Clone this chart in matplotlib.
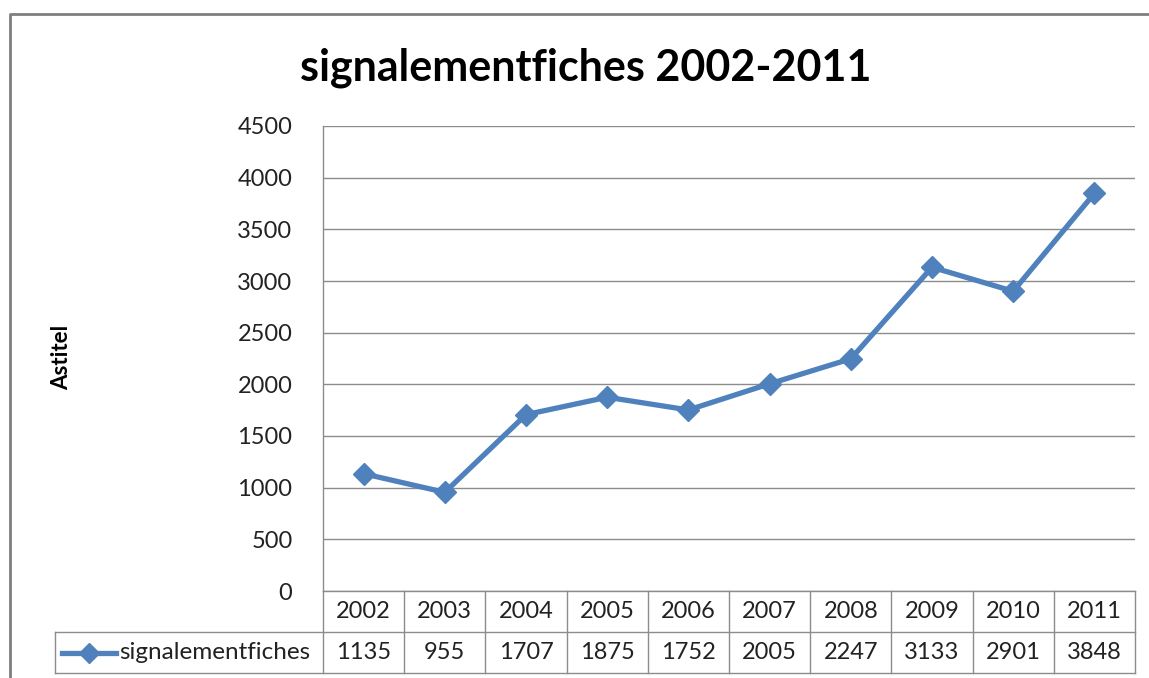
import matplotlib.pyplot as plt
from matplotlib.lines import Line2D

years = ["2002", "2003", "2004", "2005", "2006", "2007", "2008", "2009", "2010", "2011"]
counts = [1135, 955, 1707, 1875, 1752, 2005, 2247, 3133, 2901, 3848]
series_name = "signalementfiches"
title = "signalementfiches 2002-2011"
ylabel = "Astitel"
yticks = [0, 500, 1000, 1500, 2000, 2500, 3000, 3500, 4000, 4500]

W, H = 1149, 678
blue = "#4F81BD"
grey = "#8C8C8C"
txt = "#222222"
plt.rcParams["font.family"] = ["Lato", "DejaVu Sans"]

fig = plt.figure(figsize=(W / 100, H / 100), dpi=100)


def fx(px):
    return px / W


def fy(py):
    return 1 - py / H


# plot area in pixel terms
left, right, top, bottom = 323, 1135, 126, 591
ax = fig.add_axes([fx(left), fy(bottom), fx(right - left), fy(top) - fy(bottom)])

x = list(range(len(years)))
ax.plot(x, counts, color=blue, lw=3.8, marker="D", ms=11, mfc=blue, mec=blue, zorder=5)
ax.set_xlim(-0.5, len(years) - 0.5)
ax.set_ylim(0, 4500)
ax.set_yticks(yticks)
ax.set_yticklabels([str(t) for t in yticks], fontsize=17, color=txt)
ax.tick_params(axis="y", length=0, pad=22)
ax.set_xticks([])
ax.grid(axis="y", color=grey, lw=1)
ax.set_axisbelow(True)
for side in ["top", "right", "bottom"]:
    ax.spines[side].set_visible(False)
ax.spines["left"].set_color(grey)
ax.spines["left"].set_linewidth(1)

# data table below the plot
row_h = 41
for py in [bottom, bottom + row_h, bottom + 2 * row_h]:
    x0 = left if py == bottom else 55
    fig.add_artist(Line2D([fx(x0), fx(right)], [fy(py), fy(py)], color=grey, lw=1))
col_w = (right - left) / len(years)
for i in range(len(years) + 1):
    xp = left + i * col_w
    fig.add_artist(Line2D([fx(xp), fx(xp)], [fy(bottom), fy(bottom + 2 * row_h)], color=grey, lw=1))
fig.add_artist(Line2D([fx(55), fx(55)], [fy(bottom + row_h), fy(bottom + 2 * row_h)], color=grey, lw=1))

for i, (yr, c) in enumerate(zip(years, counts)):
    xc = fx(left + (i + 0.5) * col_w)
    fig.text(xc, fy(bottom + row_h / 2), yr, ha="center", va="center", fontsize=17, color=txt)
    fig.text(xc, fy(bottom + 1.5 * row_h), str(c), ha="center", va="center", fontsize=17, color=txt)

# legend key inside table
ly = fy(bottom + 1.5 * row_h)
fig.add_artist(Line2D([fx(62), fx(116)], [ly, ly], color=blue, lw=3.8))
fig.add_artist(Line2D([fx(89)], [ly], color=blue, marker="D", ms=10, lw=0))
fig.text(fx(119), ly, series_name, ha="left", va="center", fontsize=17.5, color=txt)

# titles
fig.text(fx(586), fy(68), title, ha="center", va="center", fontsize=31, fontweight="bold")
fig.text(fx(62), fy(357), ylabel, ha="center", va="center", rotation=90, fontsize=16, fontweight="bold")

# chart border
fig.add_artist(Line2D([fx(10), fx(10), 1.0], [0, fy(14), fy(14)], color="#7F7F7F", lw=2))

fig.savefig("out.png", dpi=100)
